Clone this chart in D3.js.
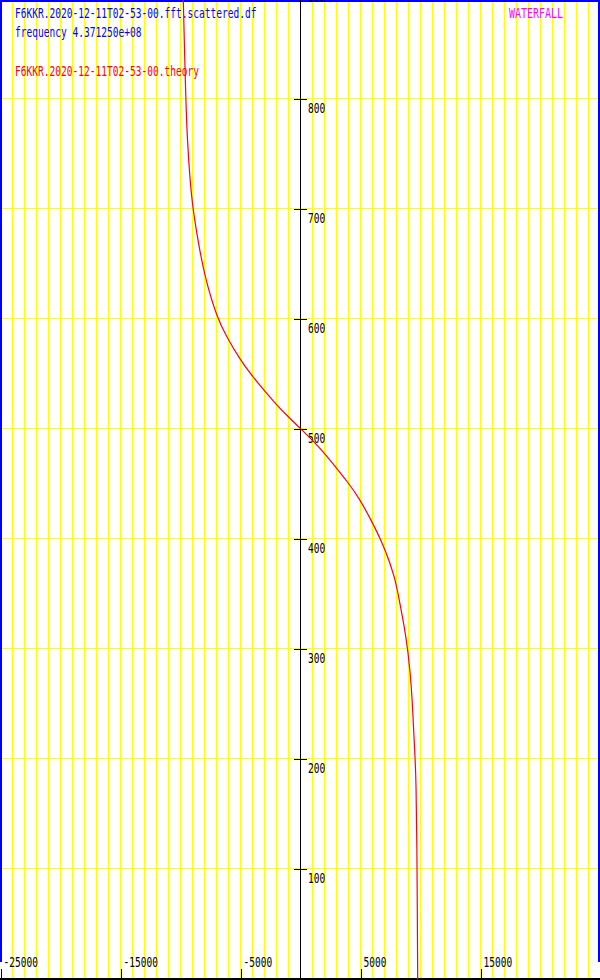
<!DOCTYPE html>
<html>
<head>
<meta charset="utf-8">
<script src="https://cdn.jsdelivr.net/npm/d3@7/dist/d3.min.js"></script>
<style>
  html, body { margin: 0; padding: 0; background: #fff; }
  svg { display: block; }
</style>
</head>
<body>
<svg id="chart" width="600" height="980"></svg>
<script>
// ---- data ----
const timeValues = [890, 801, 763, 727, 701, 666, 636, 601, 584, 563, 550, 536, 523, 512, 501,
                    490, 478, 465, 453, 438, 418, 397, 381, 365, 357, 309, 279, 257, 224, 202, 179, 134, 0];
const dopplerValues = [-9725, -9525, -9390, -9170, -8940, -8420, -7880, -6900, -6120, -4980, -4100, -3050, -2020, -1050, 0,
                       1040, 2050, 3020, 3900, 4900, 5900, 6850, 7420, 7880, 8060, 8900, 9180, 9340, 9480, 9590, 9670, 9740, 9808];
const xTickLabels = [-25000, -15000, -5000, 5000, 15000];
const yTickLabels = [100, 200, 300, 400, 500, 600, 700, 800, 900];
const xGridValues = d3.range(-24000, 25000, 1000);
const titleLines = ["F6KKR.2020-12-11T02-53-00.fft.scattered.df", "frequency 4.371250e+08"];
const theoryLabel = "F6KKR.2020-12-11T02-53-00.theory";
const cornerLabel = "WATERFALL";

// ---- layout ----
const W = 600, H = 980;
const svg = d3.select("#chart");
const x = d3.scaleLinear().domain([-25000, 25000]).range([0, 600]);
const y = d3.scaleLinear().domain([0, 890]).range([979.5, 0]);
const charW = 5.75;
const font = "'DejaVu Sans Mono', 'Liberation Mono', monospace";

function addText(g, str, xp, yp, color) {
  return g.append("text")
    .attr("x", xp).attr("y", yp)
    .attr("fill", color)
    .attr("font-family", font)
    .attr("font-size", 13.5)
    .attr("textLength", str.length * charW)
    .attr("lengthAdjust", "spacingAndGlyphs")
    .text(str);
}

// grid
const grid = svg.append("g").attr("shape-rendering", "crispEdges");
grid.selectAll("line.vx").data(xGridValues).join("line")
  .attr("x1", d => Math.round(x(d)) + 0.5).attr("x2", d => Math.round(x(d)) + 0.5)
  .attr("y1", 0).attr("y2", H)
  .attr("stroke", "#ffff00").attr("stroke-width", 1);
grid.selectAll("line.hy").data(yTickLabels.slice(0, 8)).join("line")
  .attr("x1", 0).attr("x2", W)
  .attr("y1", d => Math.round(y(d)) - 0.5).attr("y2", d => Math.round(y(d)) - 0.5)
  .attr("stroke", "#ffff00").attr("stroke-width", 1);

// blue frame (left, top, right)
const frame = svg.append("g").attr("shape-rendering", "crispEdges");
frame.append("path")
  .attr("d", "M1,962 L1,1 L599,1 L599,962")
  .attr("fill", "none").attr("stroke", "#0000ff").attr("stroke-width", 2);

// vertical axis at x=0
const yAxisG = svg.append("g")
  .attr("transform", `translate(${x(0)},0)`)
  .attr("shape-rendering", "crispEdges")
  .call(d3.axisRight(y).tickValues(yTickLabels).tickSize(7).tickFormat(d3.format("d")));
yAxisG.select(".domain").remove();
yAxisG.append("line").attr("x1", 0.5).attr("x2", 0.5).attr("y1", 0).attr("y2", H)
  .attr("stroke", "#000").attr("stroke-width", 1);
yAxisG.selectAll(".tick line").attr("x1", -6).attr("x2", 7).attr("stroke", "#000")
  .attr("transform", "translate(0,-0.5)");
yAxisG.selectAll(".tick text").each(function(d) {
  const t = d3.select(this);
  const s = String(d);
  t.attr("x", 8).attr("y", 13).attr("dy", null)
   .attr("fill", "#000").attr("font-family", font).attr("font-size", 13.5)
   .attr("text-anchor", "start")
   .attr("textLength", s.length * charW).attr("lengthAdjust", "spacingAndGlyphs");
});

// bottom axis
const xAxisG = svg.append("g")
  .attr("transform", `translate(0,979)`)
  .attr("shape-rendering", "crispEdges")
  .call(d3.axisTop(x).tickValues(xTickLabels).tickSize(10).tickSizeOuter(0).tickFormat(d3.format("d")));
xAxisG.select(".domain").attr("stroke", "#000").attr("stroke-width", 2)
  .attr("d", `M0,0H${W}`);
xAxisG.selectAll(".tick line").attr("stroke", "#000").attr("stroke-width", 1)
  .attr("transform", "translate(0.5,0)");
xAxisG.selectAll(".tick text").each(function(d) {
  const t = d3.select(this);
  const s = d3.format("d")(d).replace("−", "-");
  t.text(s).attr("x", 3).attr("y", -12).attr("dy", null)
   .attr("fill", "#000").attr("font-family", font).attr("font-size", 13.5)
   .attr("text-anchor", "start")
   .attr("textLength", s.length * charW).attr("lengthAdjust", "spacingAndGlyphs");
});

// texts
const tg = svg.append("g");
addText(tg, titleLines[0], 15, 18, "#0000ff");
addText(tg, titleLines[1], 15, 37, "#0000ff");
addText(tg, theoryLabel, 15, 76, "#ff0000");
addText(tg, cornerLabel, 509, 18, "#ff00ff").attr("textLength", cornerLabel.length * 6);

// curve
const pts = timeValues.map((t, i) => [dopplerValues[i], t]);
const line = d3.line().x(d => x(d[0])).y(d => y(d[1])).curve(d3.curveBasis);
svg.append("path")
  .datum(pts.slice().sort((a, b) => b[1] - a[1]))
  .attr("d", line)
  .attr("fill", "none").attr("stroke", "#ff0000").attr("stroke-width", 1.2);
</script>
</body>
</html>
